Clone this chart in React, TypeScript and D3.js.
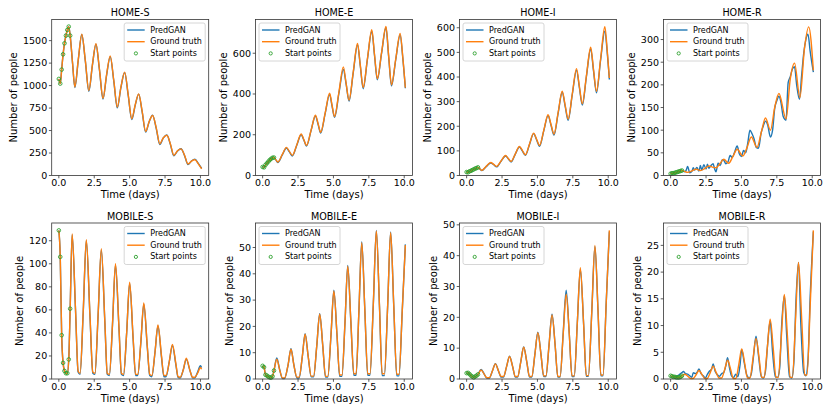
import React from "react"
import * as d3 from "d3"

// ---------- Data ----------
const xTicks = [0, 2.5, 5, 7.5, 10]
const START_COUNT = 9

// HOME-S
const homeSTime = [0, 0.1, 0.2, 0.3, 0.4, 0.5, 0.6, 0.7, 0.8, 0.97, 1.13, 1.38, 1.62, 1.87, 2.12, 2.37, 2.62, 2.87, 3.12, 3.37, 3.63, 3.88, 4.13, 4.38, 4.65, 4.9, 5.15, 5.4, 5.64, 5.88, 6.13, 6.38, 6.62, 6.88, 7.13, 7.38, 7.63, 7.88, 8.12, 8.38, 8.63, 8.88, 9.12, 9.37, 9.61, 9.85, 10.08]
const homeSTruth = [1074, 1022, 1178, 1348, 1470, 1556, 1619, 1656, 1556, 1250, 985, 1300, 1572, 1280, 944, 1230, 1465, 1180, 858, 1120, 1330, 1060, 762, 980, 1150, 900, 632, 790, 908, 720, 490, 600, 668, 530, 352, 420, 448, 350, 225, 275, 296, 225, 128, 160, 175, 130, 75]
const homeSPred = [1074, 1022, 1178, 1348, 1470, 1556, 1619, 1656, 1556, 1245, 978, 1295, 1568, 1275, 936, 1225, 1460, 1172, 850, 1112, 1322, 1050, 752, 975, 1145, 890, 622, 785, 905, 712, 482, 598, 672, 522, 345, 418, 452, 345, 218, 272, 298, 220, 122, 162, 182, 135, 80]
const homeSTicks = [0, 250, 500, 750, 1000, 1250, 1500]

// HOME-E
const homeETime = [0, 0.1, 0.2, 0.3, 0.4, 0.5, 0.6, 0.7, 0.8, 0.93, 1.07, 1.38, 1.68, 1.89, 2.1, 2.41, 2.72, 2.91, 3.1, 3.42, 3.73, 3.92, 4.1, 4.42, 4.73, 4.9, 5.08, 5.39, 5.7, 5.9, 6.1, 6.4, 6.7, 6.9, 7.1, 7.4, 7.71, 7.9, 8.1, 8.4, 8.71, 8.9, 9.1, 9.4, 9.71, 9.9, 10.08]
const homeETruth = [42, 40, 52, 60, 68, 76, 82, 87, 88, 78, 66, 102, 138, 118, 99, 150, 204, 176, 148, 222, 296, 254, 212, 308, 404, 346, 289, 411, 533, 451, 370, 509, 648, 540, 431, 573, 715, 595, 475, 603, 731, 588, 445, 571, 697, 580, 431]
const homeEPred = [42, 40, 52, 60, 68, 76, 82, 87, 88, 77, 64, 100, 135, 116, 96, 148, 200, 174, 145, 220, 292, 250, 208, 305, 398, 342, 285, 405, 520, 447, 365, 505, 642, 536, 426, 570, 708, 590, 470, 600, 726, 583, 440, 568, 690, 575, 428]
const homeETicks = [0, 200, 400, 600]

// HOME-I
const homeITime = [0, 0.1, 0.2, 0.3, 0.4, 0.5, 0.6, 0.7, 0.8, 0.93, 1.07, 1.38, 1.7, 1.91, 2.12, 2.43, 2.75, 2.94, 3.14, 3.43, 3.73, 3.94, 4.15, 4.44, 4.73, 4.94, 5.15, 5.45, 5.75, 5.96, 6.17, 6.46, 6.75, 6.96, 7.17, 7.46, 7.76, 7.96, 8.17, 8.46, 8.76, 8.96, 9.17, 9.46, 9.76, 9.94, 10.08]
const homeITruth = [14, 13, 17, 19, 22, 25, 28, 30, 33, 27, 21, 37, 53, 45, 37, 59, 81, 69, 57, 87, 118, 101, 84, 128, 172, 147, 122, 184, 247, 207, 168, 255, 342, 285, 229, 331, 434, 363, 292, 406, 521, 431, 342, 473, 604, 500, 396]
const homeIPred = [14, 13, 17, 19, 22, 25, 28, 30, 33, 27, 20, 36, 51, 44, 35, 58, 79, 68, 55, 86, 116, 99, 82, 126, 170, 145, 119, 182, 243, 204, 164, 252, 338, 281, 224, 328, 428, 358, 286, 402, 515, 426, 336, 468, 586, 492, 390]
const homeITicks = [0, 100, 200, 300, 400, 500, 600]

// HOME-R
const homeRTime = [0, 0.1, 0.2, 0.3, 0.4, 0.5, 0.6, 0.7, 0.8, 1.0, 1.2, 1.5, 1.8, 2.1, 2.4, 2.7, 3.0, 3.2, 3.5, 3.75, 4.1, 4.4, 4.7, 5.1, 5.4, 5.7, 6.1, 6.4, 6.7, 7.05, 7.35, 7.65, 8.15, 8.45, 8.75, 9.13, 9.45, 9.75, 10.08]
const homeRTruth = [4, 5, 5, 6, 7, 8, 9, 10, 11, 9, 7, 10, 14, 11, 15, 21, 18, 17, 27, 36, 27, 42, 58, 43, 62, 85, 62, 95, 127, 100, 150, 181, 125, 213, 248, 172, 280, 328, 232]
const homeRPredTime = [0, 0.2, 0.4, 0.6, 0.8, 1.0, 1.1, 1.2, 1.35, 1.5, 1.6, 1.7, 1.85, 2.0, 2.1, 2.2, 2.35, 2.5, 2.6, 2.7, 2.85, 3.0, 3.1, 3.2, 3.35, 3.5, 3.65, 3.75, 3.9, 4.05, 4.2, 4.35, 4.5, 4.7, 4.85, 5.0, 5.15, 5.3, 5.45, 5.6, 5.75, 5.9, 6.05, 6.2, 6.4, 6.55, 6.7, 6.85, 7.05, 7.2, 7.35, 7.5, 7.65, 7.8, 7.95, 8.15, 8.3, 8.45, 8.6, 8.75, 8.9, 9.1, 9.25, 9.4, 9.55, 9.7, 9.85, 10.08]
const homeRPred = [4, 5, 7, 9, 11, 8, 12, 20, 6, 9, 17, 12, 18, 10, 22, 12, 24, 14, 25, 16, 22, 26, 15, 8, 27, 22, 35, 34, 26, 30, 44, 40, 50, 65, 48, 42, 55, 50, 72, 100, 92, 80, 62, 60, 95, 110, 120, 112, 85, 100, 148, 165, 175, 160, 130, 122, 205, 218, 235, 240, 200, 168, 220, 270, 300, 312, 275, 228]
const homeRTicks = [0, 50, 100, 150, 200, 250, 300]

// MOBILE-S
const mobSTime = [0, 0.1, 0.2, 0.3, 0.4, 0.5, 0.6, 0.7, 0.8, 0.94, 1.18, 1.36, 1.5, 1.72, 1.94, 2.2, 2.4, 2.55, 2.77, 3.0, 3.25, 3.42, 3.57, 3.79, 4.0, 4.25, 4.42, 4.57, 4.79, 5.0, 5.25, 5.42, 5.57, 5.79, 6.0, 6.25, 6.42, 6.57, 6.79, 7.0, 7.25, 7.42, 7.57, 7.8, 8.02, 8.27, 8.42, 8.57, 8.79, 9.0, 9.27, 9.45, 9.6, 9.8, 10.0, 10.08]
const mobSTruth = [129, 106, 38, 14, 7, 5, 5, 17, 61, 126, 60, 7, 5, 58, 121, 55, 6, 5, 55, 113, 50, 5, 4, 48, 100, 44, 5, 4, 40, 84, 35, 4, 4, 32, 66, 28, 4, 3, 23, 47, 20, 3, 3, 15, 30, 13, 2, 1.5, 8, 18, 7, 1.5, 1.5, 5, 10, 8.5]
const mobSPred = [129, 106, 38, 14, 7, 5, 5, 17, 61, 125, 59, 6, 4, 57, 120, 54, 5, 4, 54, 112, 49, 4, 3, 47, 99, 43, 4, 3, 40, 83, 34, 3, 3, 31, 65, 27, 3, 2, 23, 46, 19, 2, 2, 15, 29, 12, 1.5, 1, 8, 17, 7, 1, 1, 6, 11.5, 10]
const mobSTicks = [0, 20, 40, 60, 80, 100, 120]

// MOBILE-E
const mobETime = [0, 0.1, 0.2, 0.3, 0.4, 0.5, 0.6, 0.7, 0.8, 1.0, 1.2, 1.4, 1.55, 1.8, 2.0, 2.2, 2.42, 2.58, 2.8, 3.0, 3.22, 3.43, 3.6, 3.82, 4.03, 4.25, 4.44, 4.6, 4.83, 5.03, 5.25, 5.44, 5.6, 5.82, 6.01, 6.23, 6.44, 6.6, 6.8, 7.0, 7.22, 7.42, 7.58, 7.82, 8.03, 8.25, 8.44, 8.6, 8.83, 9.04, 9.26, 9.47, 9.63, 9.86, 10.08]
const mobETruth = [5, 4.5, 1.6, 1.3, 0.9, 0.6, 0.5, 1, 3.2, 7.5, 3.5, 0.4, 0.4, 5.5, 11.3, 5.5, 0.7, 0.7, 8.5, 17, 8.5, 1.1, 1.1, 12.5, 24.6, 12.5, 1.0, 1.0, 17, 33.5, 17, 1.5, 1.5, 22, 42.9, 22, 2, 2, 26, 51.8, 26, 2, 2, 29, 56.3, 28, 2, 2, 28, 55.7, 28, 1.8, 1.8, 26, 50.9]
const mobEPred = [5, 4.5, 1.6, 1.3, 0.9, 0.6, 0.5, 1, 3.2, 8, 3.6, 0.2, 0.2, 5.4, 11.5, 5.6, 0.4, 0.4, 8.4, 17.2, 8.4, 0.8, 0.8, 12.4, 24.8, 12.4, 0.7, 0.7, 16.8, 33.8, 16.8, 1.0, 1.0, 21.8, 43.2, 21.8, 1.4, 1.4, 25.8, 52.2, 25.8, 1.4, 1.4, 28.8, 56.5, 27.8, 1.3, 1.3, 27.8, 55.9, 27.8, 1.2, 1.2, 25.8, 51.2]
const mobETicks = [0, 10, 20, 30, 40, 50]

// MOBILE-I
const mobITime = [0, 0.1, 0.2, 0.3, 0.4, 0.5, 0.6, 0.7, 0.8, 1.02, 1.24, 1.43, 1.6, 1.82, 2.03, 2.25, 2.44, 2.6, 2.82, 3.03, 3.25, 3.44, 3.6, 3.82, 4.03, 4.25, 4.44, 4.6, 4.82, 5.03, 5.25, 5.44, 5.6, 5.82, 6.03, 6.25, 6.44, 6.6, 6.82, 7.03, 7.25, 7.44, 7.6, 7.82, 8.03, 8.26, 8.45, 8.6, 8.84, 9.06, 9.28, 9.48, 9.63, 9.86, 10.08]
const mobITruth = [1.9, 2.0, 1.6, 1.1, 0.8, 0.5, 0.8, 1.1, 1.5, 2.9, 1.6, 0.4, 0.4, 2.6, 4.9, 2.6, 0.8, 0.8, 4, 7.3, 4, 0.8, 0.8, 5.5, 10.3, 5.5, 0.8, 0.8, 8, 15, 8, 1.0, 1.0, 11, 20.8, 11, 0.8, 0.8, 14.5, 27.5, 14.5, 1.0, 1.0, 18.5, 36.1, 18, 1.1, 1.1, 22, 43.3, 22, 1.3, 1.3, 25, 48.2]
const mobIPred = [1.9, 2.0, 1.6, 1.1, 0.8, 0.5, 0.8, 1.1, 1.5, 3.1, 1.6, 0.3, 0.3, 2.6, 5.0, 2.6, 0.6, 0.6, 4, 7.4, 4, 0.6, 0.6, 5.5, 10.4, 5.5, 0.6, 0.6, 8, 15.2, 8, 0.8, 0.8, 11, 21, 11, 0.6, 0.6, 15, 28.8, 14.5, 0.8, 0.8, 18.5, 35.6, 18, 0.9, 0.9, 22, 43, 22, 1.0, 1.0, 25, 47.8]
const mobITicks = [0, 10, 20, 30, 40, 50]

// MOBILE-R
const mobRTime = [0, 0.1, 0.2, 0.3, 0.4, 0.5, 0.6, 0.7, 0.8, 1.0, 1.22, 1.42, 1.58, 1.8, 2.0, 2.22, 2.42, 2.58, 2.8, 3.0, 3.22, 3.42, 3.6, 3.82, 4.02, 4.24, 4.42, 4.6, 4.82, 5.02, 5.24, 5.42, 5.6, 5.82, 6.03, 6.25, 6.43, 6.6, 6.82, 7.03, 7.25, 7.44, 7.6, 7.82, 8.03, 8.25, 8.44, 8.6, 8.82, 9.03, 9.26, 9.47, 9.63, 9.86, 10.08]
const mobRTruth = [0.6, 0.5, 0.4, 0.4, 0.3, 0.3, 0.3, 0.4, 0.6, 0.9, 0.5, 0.1, 0.1, 0.8, 1.6, 0.8, 0.1, 0.1, 1.2, 2.4, 1.2, 0.2, 0.2, 1.8, 3.5, 1.8, 0.1, 0.1, 2.8, 5.6, 2.8, 0.2, 0.2, 3.9, 7.6, 3.9, 0.3, 0.3, 5.6, 11.2, 5.6, 0.3, 0.3, 8, 15.8, 8, 0.3, 0.3, 11, 21.8, 11, 0.75, 0.75, 14, 27.8]
const mobRPredTime = [0, 0.2, 0.4, 0.6, 0.8, 0.9, 1.05, 1.2, 1.35, 1.5, 1.6, 1.75, 1.9, 2.0, 2.15, 2.3, 2.45, 2.6, 2.75, 2.9, 3.0, 3.15, 3.3, 3.45, 3.6, 3.75, 3.9, 4.02, 4.15, 4.3, 4.45, 4.6, 4.75, 4.9, 5.02, 5.2, 5.4, 5.55, 5.7, 5.85, 6.03, 6.2, 6.4, 6.55, 6.7, 6.85, 7.03, 7.2, 7.4, 7.55, 7.7, 7.85, 8.03, 8.2, 8.4, 8.55, 8.7, 8.85, 9.03, 9.2, 9.4, 9.55, 9.7, 9.85, 10.08]
const mobRPred = [0.5, 0.4, 0.5, 0.8, 1.2, 1.4, 1.0, 0.9, 0.6, 0.3, 1.2, 1.0, 1.4, 1.9, 1.0, 0.6, 0.2, 0.9, 1.5, 1.9, 2.8, 1.4, 0.8, 0.5, 1.0, 1.2, 2.5, 4.0, 2.2, 0.6, 0.3, 0.9, 0.4, 2.6, 5.5, 3.0, 0.6, 0.2, 1.0, 4.2, 8.0, 4.5, 0.5, 0.2, 1.5, 6.5, 10.8, 5.0, 0.4, 0.3, 2.0, 10.5, 15.6, 8.0, 0.4, 0.2, 3.0, 14.5, 21.8, 10.0, 1.2, 0.6, 3.5, 15.0, 27.6]
const mobRTicks = [0, 5, 10, 15, 20, 25]

// ---------- Panels ----------
interface PanelSpec {
    title: string
    time: number[]
    truth: number[]
    predTime: number[]
    pred: number[]
    yTicks: number[]
    legend: "left" | "right"
}

const panels: PanelSpec[] = [
    { title: "HOME-S", time: homeSTime, truth: homeSTruth, predTime: homeSTime, pred: homeSPred, yTicks: homeSTicks, legend: "right" },
    { title: "HOME-E", time: homeETime, truth: homeETruth, predTime: homeETime, pred: homeEPred, yTicks: homeETicks, legend: "left" },
    { title: "HOME-I", time: homeITime, truth: homeITruth, predTime: homeITime, pred: homeIPred, yTicks: homeITicks, legend: "left" },
    { title: "HOME-R", time: homeRTime, truth: homeRTruth, predTime: homeRPredTime, pred: homeRPred, yTicks: homeRTicks, legend: "left" },
    { title: "MOBILE-S", time: mobSTime, truth: mobSTruth, predTime: mobSTime, pred: mobSPred, yTicks: mobSTicks, legend: "right" },
    { title: "MOBILE-E", time: mobETime, truth: mobETruth, predTime: mobETime, pred: mobEPred, yTicks: mobETicks, legend: "left" },
    { title: "MOBILE-I", time: mobITime, truth: mobITruth, predTime: mobITime, pred: mobIPred, yTicks: mobITicks, legend: "left" },
    { title: "MOBILE-R", time: mobRTime, truth: mobRTruth, predTime: mobRPredTime, pred: mobRPred, yTicks: mobRTicks, legend: "left" },
]

// ---------- Layout ----------
const W = 830
const H = 415
const COL_LEFT = [51.7, 255.5, 459.5, 663.5]
const ROW_TOP = [19.5, 223]
const PW = 157
const PH = 156
const FONT = "DejaVu Sans, sans-serif"
const BLUE = "#1f77b4"
const ORANGE = "#ff7f0e"
const GREEN = "#2ca02c"
const TICK_FS = 9.5
const LW = 81
const LH = 38

// matplotlib-like 5% margins on x
const tExtent = d3.extent(panels.flatMap(p => [...p.time, ...p.predTime])) as [number, number]
const tPad = (tExtent[1] - tExtent[0]) * 0.05
const xDomain: [number, number] = [tExtent[0] - tPad, tExtent[1] + tPad]

const Panel: React.FC<{ spec: PanelSpec; left: number; top: number }> = ({ spec, left, top }) => {
    const all = [...spec.truth, ...spec.pred]
    const vMin = d3.min(all) as number
    const vMax = d3.max(all) as number
    const yTop = vMax + 0.05 * (vMax - vMin)

    const x = d3.scaleLinear().domain(xDomain).range([0, PW])
    const y = d3.scaleLinear().domain([0, yTop]).range([PH, 0])

    const line = d3.line<[number, number]>()
        .x(d => x(d[0]))
        .y(d => y(d[1]))
        .curve(d3.curveMonotoneX)

    const truthPts = spec.time.map((t, i) => [t, spec.truth[i]] as [number, number])
    const predPts = spec.predTime.map((t, i) => [t, spec.pred[i]] as [number, number])
    const startPts = truthPts.slice(0, START_COUNT)

    const maxChars = d3.max(spec.yTicks, v => String(v).length) as number
    const yLabelX = -4.5 - maxChars * TICK_FS * 0.636 - 9.5

    const lx = spec.legend === "right" ? PW - 3.5 - LW : 3.5
    const ly = 3.5
    const rows = [
        { label: "PredGAN", kind: "line", color: BLUE },
        { label: "Ground truth", kind: "line", color: ORANGE },
        { label: "Start points", kind: "marker", color: GREEN },
    ]

    return (
        <g transform={`translate(${left},${top})`} fontFamily={FONT}>
            {/* series */}
            <path d={line(predPts) ?? ""} fill="none" stroke={BLUE} strokeWidth={1.4} strokeLinejoin="round" />
            <path d={line(truthPts) ?? ""} fill="none" stroke={ORANGE} strokeWidth={1.4} strokeLinejoin="round" />
            {startPts.map((d, i) => (
                <circle key={i} cx={x(d[0])} cy={y(d[1])} r={1.8} fill="none" stroke={GREEN} strokeWidth={0.9} />
            ))}

            {/* frame */}
            <rect x={0} y={0} width={PW} height={PH} fill="none" stroke="#333" strokeWidth={0.8} />

            {/* y axis */}
            {spec.yTicks.map(v => (
                <g key={v} transform={`translate(0,${y(v)})`}>
                    <line x1={-2.8} x2={0} stroke="#333" strokeWidth={0.8} />
                    <text x={-4.5} dy="0.35em" textAnchor="end" fontSize={TICK_FS} fill="#000">{v}</text>
                </g>
            ))}
            <text
                transform={`translate(${yLabelX},${PH / 2}) rotate(-90)`}
                textAnchor="middle"
                dominantBaseline="central"
                fontSize={10}
                fill="#000"
            >Number of people</text>

            {/* x axis */}
            {xTicks.map(v => (
                <g key={v} transform={`translate(${x(v)},${PH})`}>
                    <line y1={0} y2={2.8} stroke="#333" strokeWidth={0.8} />
                    <text y={10.6} textAnchor="middle" fontSize={TICK_FS} fill="#000">{d3.format(".1f")(v)}</text>
                </g>
            ))}
            <text x={PW / 2} y={PH + 22.5} textAnchor="middle" fontSize={10} fill="#000">Time (days)</text>

            {/* title */}
            <text x={PW / 2} y={-3.5} textAnchor="middle" fontSize={9.6} fill="#000">{spec.title}</text>

            {/* legend */}
            <g transform={`translate(${lx},${ly})`}>
                <rect width={LW} height={LH} rx={2} fill="#fff" fillOpacity={0.8} stroke="#cccccc" strokeWidth={0.8} />
                {rows.map((r, i) => {
                    const cy = 7 + i * 11.7
                    return (
                        <g key={r.label}>
                            {r.kind === "line"
                                ? <line x1={3} x2={20.5} y1={cy} y2={cy} stroke={r.color} strokeWidth={1.4} />
                                : <circle cx={11.7} cy={cy} r={1.6} fill="none" stroke={r.color} strokeWidth={0.9} />}
                            <text x={26} y={cy} dominantBaseline="central" fontSize={8} fill="#000">{r.label}</text>
                        </g>
                    )
                })}
            </g>
        </g>
    )
}

export default function App() {
    return (
        <svg
            width={W}
            height={H}
            viewBox={`0 0 ${W} ${H}`}
            style={{ position: "absolute", left: 0, top: 0, background: "#fff" }}
        >
            {panels.map((p, i) => (
                <Panel key={p.title} spec={p} left={COL_LEFT[i % 4]} top={ROW_TOP[Math.floor(i / 4)]} />
            ))}
        </svg>
    )
}
